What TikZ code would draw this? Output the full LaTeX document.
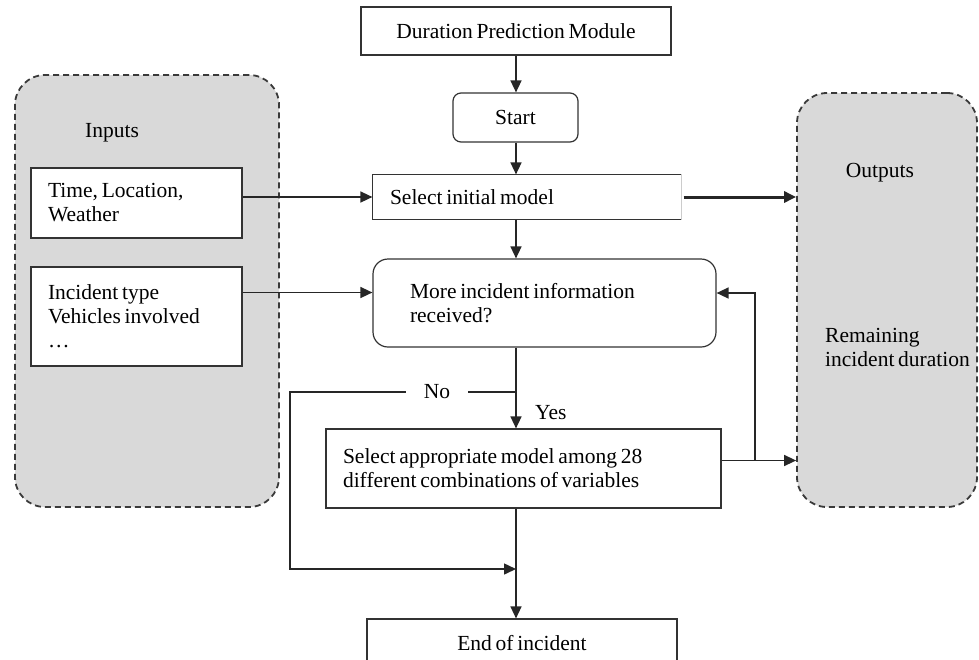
\documentclass[tikz,border=0pt]{standalone}
\usepackage{fontspec}
\setmainfont[WordSpace=0.7]{Liberation Serif}
\usetikzlibrary{arrows.meta}
\definecolor{panelc}{HTML}{D9D9D9}
\definecolor{dashc}{HTML}{3A3A3A}
\definecolor{linec}{HTML}{333333}
\newcommand{\txtsz}{\fontsize{21.5}{24}\selectfont}
\tikzset{
  box/.style={draw=linec, line width=1.2pt, fill=white, font=\txtsz, inner ysep=0pt},
  panel/.style={draw=dashc, dash pattern=on 6pt off 4pt, line width=1.8pt, fill=panelc, rounded corners=30pt},
  ln/.style={draw=black!85, line width=1.5pt},
  arr/.style={ln, -{Triangle[length=12pt,width=11pt]}},
  lbl/.style={font=\txtsz, inner sep=0pt},
}
\begin{document}
\begin{tikzpicture}[x=1pt,y=-1pt]
\useasboundingbox (0,0) rectangle (979,659);

% side panels
\node[panel, minimum width=264, minimum height=432] (inputs) at (147,291) {};
\node[panel, minimum width=180, minimum height=414] (outputs) at (887,300) {};
\node[lbl] (inlbl) at (112,133) {Inputs};
\node[lbl] (outlbl) at (880,173) {Outputs};
\node[lbl, anchor=west, align=flush left] (remain) at (825,347) {Remaining\\incident duration};

% input boxes
\node[box, minimum width=211, minimum height=70, inner xsep=17, text width=177, align=flush left] (time) at (136.5,203) {Time, Location,\\Weather};
\node[box, minimum width=211, minimum height=99, inner xsep=17, text width=177, align=flush left] (incident) at (136.5,316.5) {Incident type\\Vehicles involved\\…};

% main flow
\coordinate (axis) at (516,0);
\node[box, minimum width=310, minimum height=48] (dpm) at (516,31) {Duration Prediction Module};
\node[box, rounded corners=8pt, minimum width=125, minimum height=49] (start) at (515.5,117.5) {Start};
\node[box, draw=none, minimum width=308, minimum height=44, inner xsep=17, text width=274, align=flush left] (sel) at (527,197) {Select initial model};
\draw[draw=linec, line width=1.2pt] (sel.north east) -- (sel.north west) -- (sel.south west) -- (sel.south east);
\draw[draw=linec!25, line width=0.8pt] (sel.north east) -- (sel.south east);
\node[box, rounded corners=15pt, minimum width=343, minimum height=88, inner xsep=37, text width=269, align=flush left] (more) at (544.5,303) {More incident information\\received?};
\node[box, minimum width=395, minimum height=79, inner xsep=17, text width=361, align=flush left] (sel2) at (523.5,468.5) {Select appropriate model among 28\\different combinations of variables};
\node[box, minimum width=310, minimum height=49] (end) at (522,643.5) {End of incident};

% vertical connectors
\draw[arr] (axis |- dpm.south) -- (axis |- start.north);
\draw[arr] (axis |- start.south) -- (axis |- sel.north);
\draw[arr] (axis |- sel.south) -- (axis |- more.north);
\draw[arr] (axis |- more.south) -- (axis |- sel2.north);
\node[lbl, anchor=west] (yes) at (535,413) {Yes};
\draw[arr] (axis |- sel2.south) -- (axis |- end.north);

% inputs into the flow
\draw[arr] (time.east |- sel.west) -- (sel.west);
\draw[arr] ([yshift=24pt]incident.east) -- ([yshift=24pt]incident.east -| more.west);

% outputs
\draw[ln, line width=3pt, -{Triangle[length=12pt,width=11pt]}] ([xshift=2pt]sel.east) -- (sel.east -| outputs.west);
\draw[arr] ([yshift=8pt]sel2.east) -- ([yshift=8pt]sel2.east -| outputs.west);
\coordinate (fb) at (755,460);
\draw[arr] (fb) |- ([yshift=10pt]more.east);

% "No" branch
\coordinate (nosplit) at (516,392);
\coordinate (nocorner) at (290,392);
\coordinate (merge) at (516,569);
\draw[arr] (nosplit) -- (nocorner) |- (merge);
\node[lbl, fill=white, inner xsep=18pt, inner ysep=2pt] (nolbl) at (437,392) {No};
\end{tikzpicture}
\end{document}
